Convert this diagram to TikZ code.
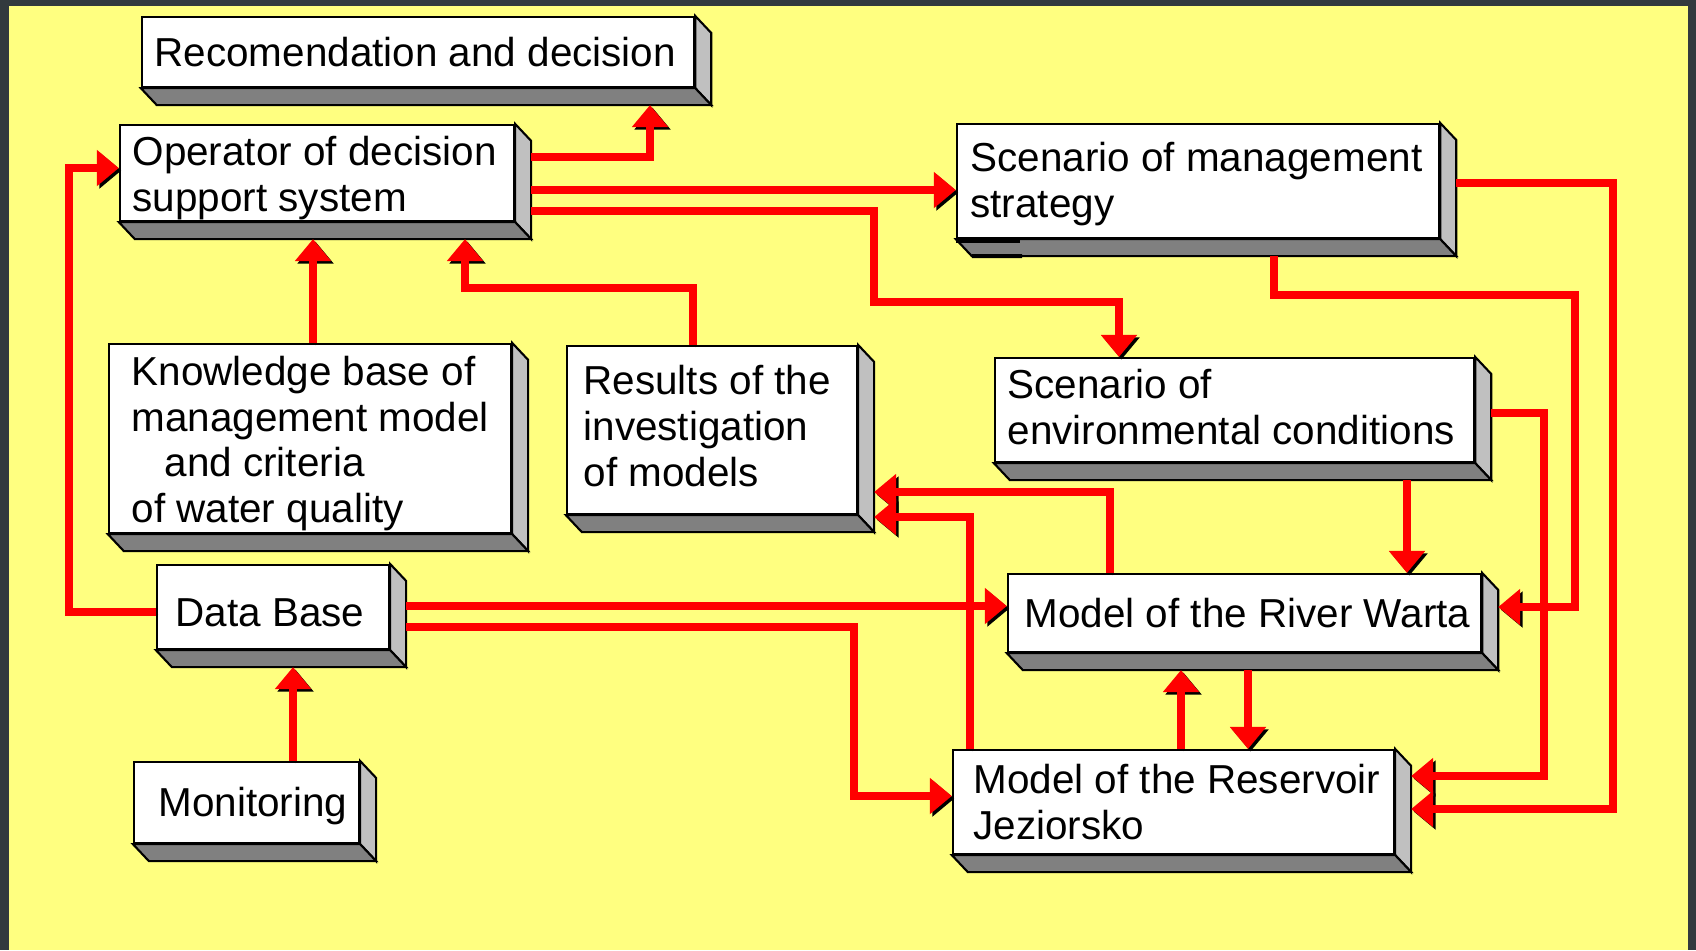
\documentclass[tikz,border=0pt]{standalone}
\usepackage{fontspec}
\setmainfont{Liberation Sans}
\usetikzlibrary{positioning,arrows.meta}

\definecolor{bgyellow}{RGB}{255,255,128}
\definecolor{bgdark}{RGB}{50,58,62}
\definecolor{sidegray}{RGB}{192,192,192}
\definecolor{basegray}{RGB}{128,128,128}

\begin{document}
\begin{tikzpicture}[
x=0.01cm, y=-0.01cm,
face/.style={draw=black, fill=white, line width=0.6pt, inner sep=0pt},
txt/.style={align=left, inner sep=0pt, font=\fontsize{11.5}{13}\selectfont},
link/.style={->, draw=red, line width=0.08cm, preaction={draw=black, transform canvas={shift={(0.025cm,-0.025cm)}}}},
>={Triangle[width=0.35cm,length=0.22cm]}
]
\useasboundingbox (0,0) rectangle (1696,950);
\fill[bgdark] (0,0) rectangle (1696,950);
\fill[bgyellow] (9,6) rectangle (1688,950);

%Boxes
\node[face, minimum width=5.52cm, minimum height=0.70cm] (rec)   at (418,52)      {};
\node[face, minimum width=3.94cm, minimum height=0.96cm] (oper)  at (317,173)     {};
\node[face, minimum width=4.82cm, minimum height=1.14cm] (scm)   at (1198,181)    {};
\node[face, minimum width=4.02cm, minimum height=1.89cm] (know)  at (310,438.5)   {};
\node[face, minimum width=2.90cm, minimum height=1.68cm] (res)   at (712,430)     {};
\node[face, minimum width=4.79cm, minimum height=1.04cm] (sce)   at (1234.5,410)  {};
\node[face, minimum width=2.32cm, minimum height=0.84cm] (db)    at (273,607)     {};
\node[face, minimum width=4.73cm, minimum height=0.78cm] (river) at (1244.5,613)  {};
\node[face, minimum width=2.25cm, minimum height=0.81cm] (mon)   at (246.5,802.5) {};
\node[face, minimum width=4.41cm, minimum height=1.04cm] (resv)  at (1173.5,802)  {};

%Depth
\foreach \n in {rec,oper,scm,know,res,sce,db,river,mon,resv}{
  \path (\n.south east) ++(16,17) coordinate (\n-se3);
  \filldraw[fill=sidegray, line width=0.6pt] (\n.north east) -- ++(16,17) -- (\n-se3) -- (\n.south east) -- cycle;
  \filldraw[fill=basegray, line width=0.6pt] (\n.south west) -- ++(16,17) -- (\n-se3) -- (\n.south east) -- cycle;
}
\draw[line width=0.04cm] ([yshift=-0.02cm]scm.south west) -- ++(64,0);
\draw[line width=0.04cm] ([shift={(0.16cm,-0.17cm)}]scm.south west) -- (1022,0 |- scm-se3);

%Texts
\node[txt, right=0.13cm of rec.west]                 (rec-t)   {Recomendation and decision};
\node[txt, right=0.13cm of oper.west, yshift=-0.05cm] (oper-t)  {Operator of decision\\support system};
\node[txt, right=0.14cm of scm.west, yshift=-0.03cm]  (scm-t)   {Scenario of management\\strategy};
\node[txt, right=0.23cm of know.west, yshift=-0.05cm] (know-t)  {Knowledge base of\\management model\\\hspace*{0.33cm}and criteria\\of water quality};
\node[txt, right=0.17cm of res.west, yshift=0.04cm]   (res-t)   {Results of the\\investigation\\of models};
\node[txt, right=0.13cm of sce.west, yshift=0.03cm]   (sce-t)   {Scenario of\\environmental conditions};
\node[txt, right=0.19cm of db.west, yshift=-0.06cm]   (db-t)    {Data Base};
\node[txt, right=0.17cm of river.west]               (river-t) {Model of the River Warta};
\node[txt, right=0.25cm of mon.west, yshift=-0.04cm]  (mon-t)   {Monitoring};
\node[txt, right=0.21cm of resv.west]                (resv-t)  {Model of the Reservoir\\Jeziorsko};

%Lines
\draw[link] (oper-se3 |- 0,157) -| (650,0 |- rec-se3);
\draw[link] (oper-se3 |- 0,190) -- (scm.west |- 0,190);
\draw[link] (oper-se3 |- 0,211) -| (874,302) -| (1119,0 |- sce.north);
\draw[link] (313,0 |- know.north) -- (313,0 |- oper-se3);
\draw[link] (693,0 |- res.north) |- (465,288) -- (465,0 |- oper-se3);
\draw[link] (db.west |- 0,612) -| (69,168) -- (oper.west |- 0,168);
\draw[link] (db-se3 |- 0,606) -- (river.west |- 0,606);
\draw[link] (db-se3 |- 0,627) -| (854,796) -- (resv.west |- 0,796);
\draw[link] (293,0 |- mon.north) -- (293,0 |- db-se3);
\draw[link] (1110,0 |- river.north) |- (res-se3 |- 0,492);
\draw[link] (970,0 |- resv.north) |- (res-se3 |- 0,517);
\draw[link] (1407,0 |- sce-se3) -- (1407,0 |- river.north);
\draw[link] (sce-se3 |- 0,413) -| (1544,776) -- (resv-se3 |- 0,776);
\draw[link] (1274,0 |- scm-se3) |- (1575,295) |- (river-se3 |- 0,607);
\draw[link] (scm-se3 |- 0,183) -| (1613,809) -- (resv-se3 |- 0,809);
\draw[link] (1248,0 |- river-se3) -- (1248,0 |- resv.north);
\draw[link] (1181,0 |- resv.north) -- (1181,0 |- river-se3);
\end{tikzpicture}
\end{document}
